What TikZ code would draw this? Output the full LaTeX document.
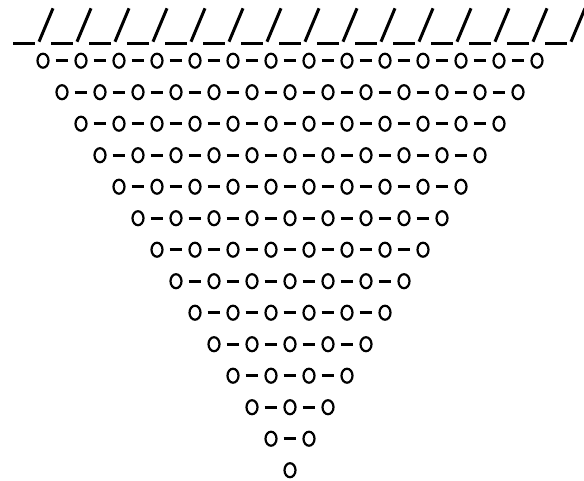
\documentclass[tikz,border=0pt]{standalone}
\usetikzlibrary{shapes.geometric}

\begin{document}
\begin{tikzpicture}[x=1pt,y=-1pt,
  atom/.style={draw,ellipse,line width=2.2pt,minimum width=11pt,
    minimum height=14pt,inner sep=0pt},
  bond/.style={line width=3pt,shorten >=6pt,shorten <=6pt},
  wall/.style={line width=3pt}]
  \useasboundingbox (0,0) rectangle (584,480);
  % hatched surface
  \foreach \k in {0,...,14}{
    \draw[wall] ({13+38*\k},43) -- ({35+38*\k},43);
    \draw[wall] ({39+38*\k},41.7) -- ({53+38*\k},8.3);
  }
  % layers of atoms
  \foreach \r in {0,...,13}{
    \pgfmathtruncatemacro{\last}{13-\r}
    \foreach \k in {0,...,\last}
      \node[atom] (a-\r-\k) at ({43+19*\r+38*\k},{60.7+31.5*\r}) {};
    \foreach \k in {1,...,13}{
      \ifnum\k>\last\else
        \pgfmathtruncatemacro{\j}{\k-1}
        \draw[bond] (a-\r-\j) -- (a-\r-\k);
      \fi
    }
  }
\end{tikzpicture}
\end{document}
